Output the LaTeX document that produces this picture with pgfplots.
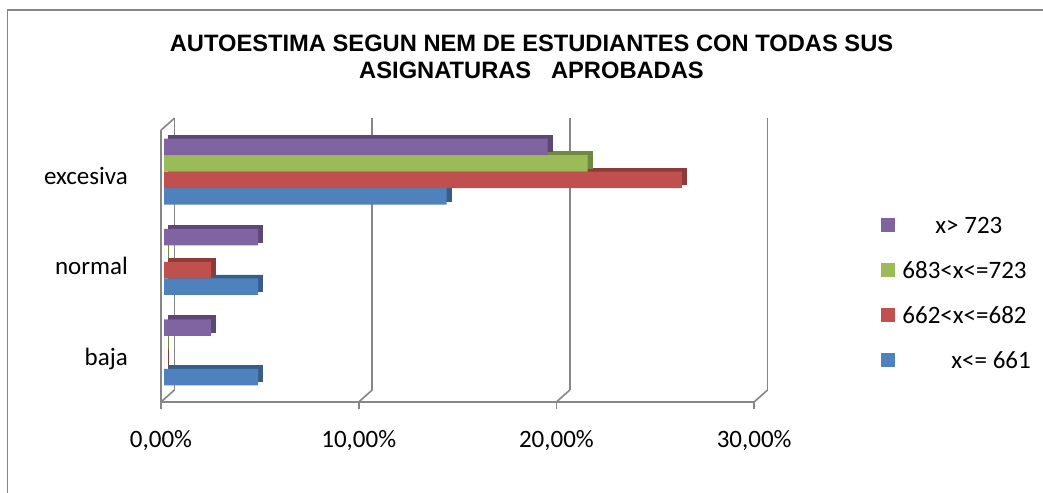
\documentclass[border=0pt]{standalone}
\usepackage{fontspec}
\setmainfont{Carlito}
\newfontfamily\titlefont{Liberation Sans}
\usepackage{pgfplots}
\usepackage{pgfplotstable}
\pgfplotsset{compat=1.18}

\definecolor{cBlue}{HTML}{4F81BD}   \definecolor{dBlue}{HTML}{385D8A}
\definecolor{cRed}{HTML}{C0504D}    \definecolor{dRed}{HTML}{8E3A38}
\definecolor{cGreen}{HTML}{9BBB59}  \definecolor{dGreen}{HTML}{71893F}
\definecolor{cPurple}{HTML}{8064A2} \definecolor{dPurple}{HTML}{5C4776}
\definecolor{gridgray}{HTML}{868686}

% cat: 0 = baja, 1 = normal, 2 = excesiva
\pgfplotstableread{
cat v1    v2    v3    v4
0   4.76  0     0     2.38
1   4.76  2.38  0     4.76
2   14.29 26.19 21.43 19.4
}\datatable

\pgfplotsset{
  side/.style={draw=#1, line width=0.8pt, fill=#1, xshift=7.5pt, yshift=3.5pt, forget plot},
  front/.style={draw=none, fill=#1, xshift=3pt,
    legend image code/.code={\fill[fill=#1] (0pt,-7pt) rectangle (14pt,7pt);}},
}

\begin{document}
\begin{tikzpicture}[font=\fontsize{25}{30}\selectfont]
\begin{axis}[
  xbar, bar width=16.5pt,
  x=19.77pt, y=90.3pt,
  xmin=0, xmax=30, ymin=-0.55, ymax=2.46,
  axis x line*=bottom, axis y line*=left,
  axis line style={-, draw=gridgray, line width=1.6pt},
  xtick={0,10,20,30},
  xticklabels={{0,00\%},{10,00\%},{20,00\%},{30,00\%}},
  ytick={0,1,2}, yticklabels={baja,normal,excesiva},
  tick align=outside, major tick length=7pt,
  x tick style={draw=gridgray, line width=1.6pt},
  y tick style={draw=none},
  xmajorgrids,
  grid style={draw=gridgray, line width=1.6pt, xshift=13.5pt, yshift=12pt},
  xticklabel style={inner sep=0pt, anchor=base, yshift=-39pt},
  yticklabel style={inner sep=0pt, anchor=base east, xshift=-26pt, yshift=-13pt},
  clip=false,
  reverse legend,
  legend style={draw=none, fill=none, inner sep=0pt, at={(1.2142,0.401)}, anchor=west,
    cells={anchor=west}, column sep=7pt, row sep=21pt,
    nodes={inner sep=0pt, text height=20pt, text depth=4pt}},
]
% depth faces first
\addplot[side=dBlue,   bar shift=-24.75pt] table[x=v1, y=cat] {\datatable};
\addplot[side=dRed,    bar shift=-8.25pt]  table[x=v2, y=cat] {\datatable};
\addplot[side=dGreen,  bar shift=8.25pt]   table[x=v3, y=cat] {\datatable};
\addplot[side=dPurple, bar shift=24.75pt]  table[x=v4, y=cat] {\datatable};
% front faces
\addplot[front=cBlue,   bar shift=-24.75pt] table[x=v1, y=cat] {\datatable};
\addplot[front=cRed,    bar shift=-8.25pt]  table[x=v2, y=cat] {\datatable};
\addplot[front=cGreen,  bar shift=8.25pt]   table[x=v3, y=cat] {\datatable};
\addplot[front=cPurple, bar shift=24.75pt]  table[x=v4, y=cat] {\datatable};
\legend{\hspace{49pt}x<= 661, 662<x<=682, 683<x<=723, \hspace{33pt}x> 723}

\pgfplotsinvokeforeach{0,10,20,30}{
  \draw[gridgray, line width=1.6pt] (axis cs:#1,-0.55) -- ++(13.5pt,12pt);
}
\draw[gridgray, line width=1.6pt] (axis cs:0,2.46) -- ++(13.5pt,12pt);

\node[anchor=base, inner sep=0pt, font=\titlefont\bfseries\fontsize{23.7}{27}\selectfont]
  at (axis cs:18.74,3.329) {AUTOESTIMA SEGUN NEM DE ESTUDIANTES CON TODAS SUS};
\node[anchor=base, inner sep=0pt, font=\titlefont\bfseries\fontsize{23.7}{27}\selectfont]
  at (axis cs:18.74,3.030) {ASIGNATURAS\ \ \ APROBADAS};

\draw[gridgray, line width=1.8pt] (axis cs:-7.764,-1.7) -- (axis cs:-7.764,3.79) -- (axis cs:44.8,3.79);
\coordinate (bbA) at (axis cs:-8.144,-1.558);
\coordinate (bbB) at (axis cs:44.61,3.901);
\end{axis}
\pgfresetboundingbox
\useasboundingbox (bbA) rectangle (bbB);
\end{tikzpicture}
\end{document}
